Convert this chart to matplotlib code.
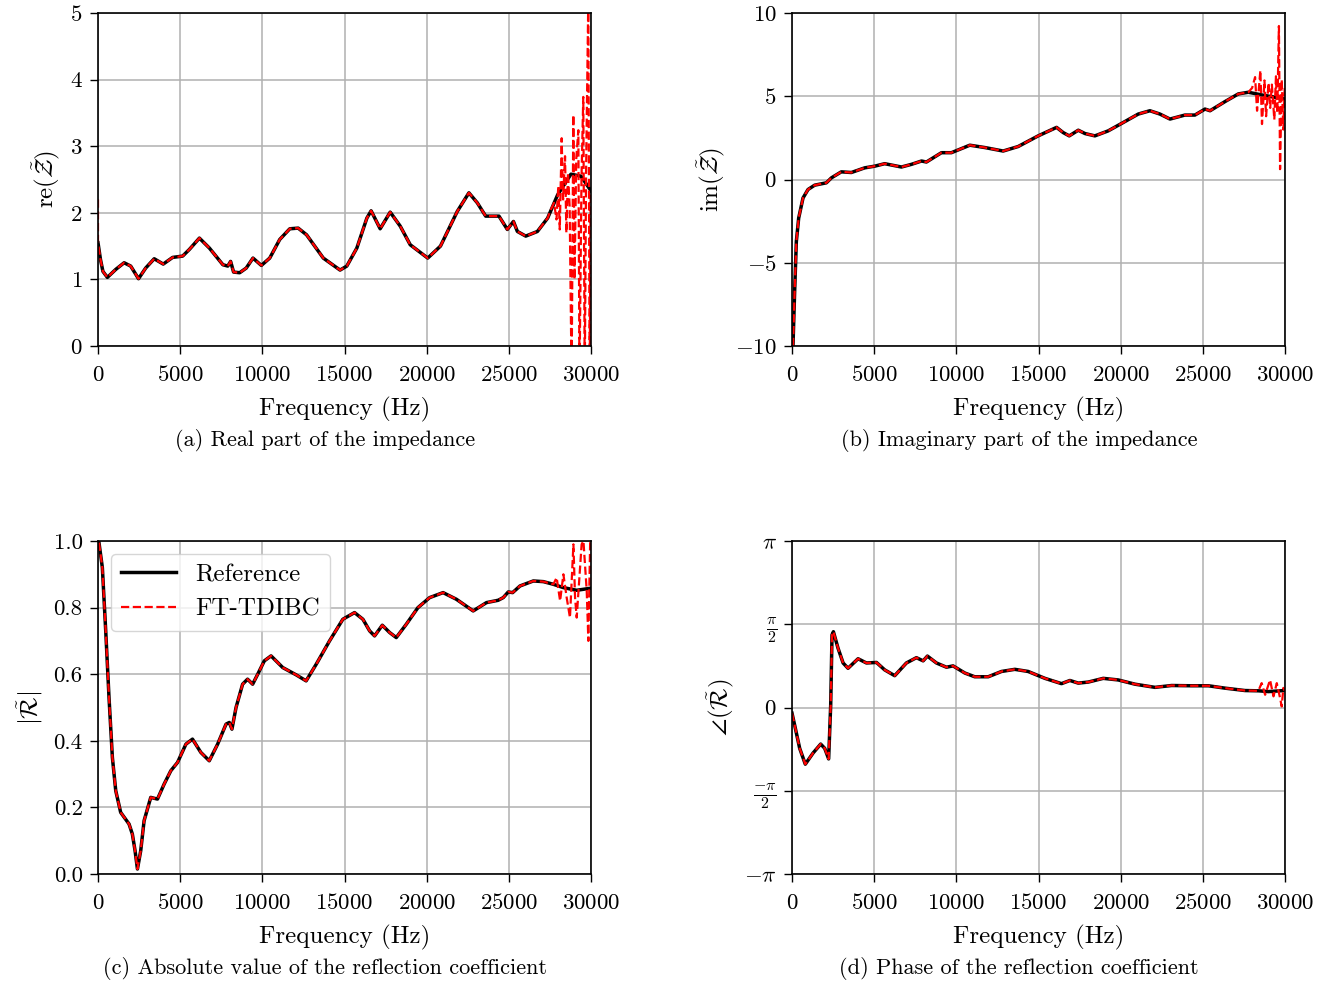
import matplotlib
matplotlib.use("Agg")
import matplotlib.pyplot as plt
import numpy as np

plt.rcParams['font.family'] = 'serif'
plt.rcParams['font.serif'] = ['cmr10', 'DejaVu Serif']
plt.rcParams['mathtext.fontset'] = 'cm'
plt.rcParams['axes.formatter.use_mathtext'] = True
plt.rcParams['axes.unicode_minus'] = True

# (a) real part of impedance, reference
re_f = [0, 150, 300, 570, 1080, 1590, 1990, 2465, 2900, 3420, 3970, 4540, 5150,
        5560, 6170, 6780, 7600, 7900, 8070, 8250, 8620, 9020, 9430, 9940, 10450,
        11060, 11670, 12180, 12690, 13710, 14730, 15140, 15750, 16360, 16620,
        17170, 17780, 18390, 19000, 20065, 20840, 21860, 22570, 23080, 23590,
        24400, 24910, 25280, 25520, 26030, 26740, 27360, 27970, 28780, 29390, 30000]
re_ref = [1.55, 1.3, 1.12, 1.03, 1.15, 1.25, 1.2, 1.01, 1.17, 1.31, 1.23, 1.33, 1.35,
          1.45, 1.62, 1.47, 1.22, 1.2, 1.27, 1.11, 1.1, 1.17, 1.32, 1.21, 1.32,
          1.6, 1.76, 1.77, 1.67, 1.32, 1.14, 1.2, 1.47, 1.92, 2.03,
          1.76, 2.01, 1.8, 1.52, 1.32, 1.5, 2.02, 2.3, 2.15, 1.95,
          1.95, 1.75, 1.87, 1.72, 1.65, 1.72, 1.92, 2.27, 2.58, 2.55, 2.33]
re_tail_f = [27560, 27750, 27900, 28010, 28100, 28215, 28300, 28420, 28500, 28600,
             28700, 28820, 28925, 29000, 29100, 29230, 29300, 29420, 29530, 29620,
             29700, 29835, 29920, 29980]
re_tail = [2.05, 2.15, 1.9, 2.4, 1.75, 3.12, 2.2, 2.85, 1.7, 2.6,
           2.1, -0.5, 3.47, 1.0, 2.8, 3.24, -0.5, 2.5, 3.74, -0.5,
           2.6, 5.2, -0.5, 2.3]
re_start = 2.2

# (b) imaginary part of impedance, reference
im_f = [60, 160, 264, 406, 670, 975, 1380, 2090, 2400, 3000, 3610, 4425, 5030,
        5640, 6660, 7270, 7880, 8180, 9095, 9700, 10820, 11730, 12850, 13760,
        14980, 16100, 16500, 16870, 17420, 17830, 18430, 19240, 20060, 21070,
        21780, 22390, 23000, 23910, 24520, 25130, 25440, 26350, 27160, 27770,
        28580, 29390, 29960]
im_ref = [-10, -6.75, -3.73, -2.32, -1.11, -0.6, -0.34, -0.2, 0.1, 0.46, 0.42, 0.7, 0.8,
          0.95, 0.75, 0.91, 1.11, 1.05, 1.61, 1.61, 2.06, 1.92, 1.71, 1.98,
          2.62, 3.13, 2.82, 2.62, 2.96, 2.76, 2.62, 2.92, 3.37, 3.93,
          4.13, 3.93, 3.63, 3.87, 3.87, 4.23, 4.13, 4.68, 5.14, 5.24,
          5.08, 4.94, 4.84]
im_tail_f = [27770, 28000, 28180, 28300, 28500, 28600, 28750, 28850, 29000, 29100,
             29200, 29350, 29450, 29530, 29630, 29700, 29800, 29900, 29980]
im_tail = [5.24, 5.5, 6.15, 4.13, 6.55, 3.33, 5.95, 3.8, 5.8, 4.3,
           5.7, 3.6, 6.2, 4.0, 9.22, 0.62, 6.0, 3.0, 5.5]

# (c) absolute value of reflection coefficient, reference
abs_f = [60, 265, 470, 670, 875, 1080, 1380, 1890, 2090, 2255, 2400, 2600, 2805,
         3210, 3620, 4025, 4430, 4840, 5350, 5750, 6260, 6770, 7280, 7790, 7990,
         8150, 8400, 8800, 9100, 9410, 9720, 10120, 10530, 11240, 12060, 12665,
         13280, 14090, 14900, 15610, 16120, 16530, 16830, 17300, 17750, 18150,
         18760, 19470, 20180, 21000, 21810, 22830, 23640, 24350, 24660, 24965,
         25230, 25680, 26490, 27100, 27710, 28320, 29130, 29950]
abs_ref = [0.995, 0.92, 0.73, 0.53, 0.35, 0.25, 0.185, 0.15, 0.12, 0.07, 0.015, 0.07, 0.16,
           0.23, 0.225, 0.27, 0.31, 0.335, 0.39, 0.405, 0.365, 0.34, 0.39, 0.45, 0.455,
           0.435, 0.5, 0.57, 0.585, 0.57, 0.6, 0.64, 0.655, 0.62, 0.598, 0.58,
           0.63, 0.7, 0.765, 0.785, 0.765, 0.73, 0.715, 0.747, 0.725, 0.71,
           0.75, 0.8, 0.83, 0.845, 0.825, 0.79, 0.815, 0.822, 0.83, 0.847,
           0.845, 0.865, 0.88, 0.878, 0.87, 0.86, 0.852, 0.858]
abs_tail_f = [27710, 27910, 28120, 28320, 28520, 28720, 28930, 29030, 29130, 29430,
              29540, 29740, 29840, 29950]
abs_tail = [0.87, 0.89, 0.82, 0.9, 0.83, 0.77, 0.99, 0.83, 0.77, 0.99,
            1.0, 0.85, 0.7, 1.0]

# (d) phase of reflection coefficient, reference
ph_f = [0, 160, 467, 810, 1280, 1745, 1990, 2230, 2355, 2435, 2520, 2800, 3110,
        3410, 4020, 4530, 5140, 5640, 6250, 6960, 7570, 7980, 8240, 8790, 9400,
        9800, 10520, 11120, 11940, 12750, 13560, 14370, 15390, 16400, 16910,
        17420, 18030, 18940, 19850, 20870, 22090, 23100, 24320, 25340, 26350,
        27570, 28380, 28990, 29960]
ph_ref = [-0.107, -0.33, -0.77, -1.07, -0.86, -0.69, -0.77, -0.97, 0.05, 1.37, 1.43, 1.12, 0.84,
          0.74, 0.92, 0.84, 0.85, 0.71, 0.6, 0.84, 0.94, 0.88, 0.97, 0.84, 0.76,
          0.785, 0.65, 0.58, 0.58, 0.68, 0.72, 0.68, 0.55, 0.45, 0.51,
          0.46, 0.48, 0.55, 0.52, 0.44, 0.38, 0.415, 0.41, 0.41, 0.365,
          0.32, 0.315, 0.3, 0.32]
ph_tail_f = [28380, 28580, 28790, 29090, 29300, 29500, 29700, 29800, 29900, 29960]
ph_tail = [0.315, 0.46, 0.24, 0.52, 0.21, 0.46, 0.18, 0.02, 0.37, 0.32]

captions = ['(a) Real part of the impedance', '(b) Imaginary part of the impedance',
            '(c) Absolute value of the reflection coefficient',
            '(d) Phase of the reflection coefficient']


def red_series(f, v, tail_f, tail_v):
    f = np.array(f)
    v = np.array(v)
    keep = f < tail_f[0]
    return np.concatenate([f[keep], tail_f]), np.concatenate([v[keep], tail_v])


fig = plt.figure(figsize=(13.35, 9.83), dpi=100)
w, h = 493 / 1335, 333 / 983
ax_a = fig.add_axes([98 / 1335, 1 - 346 / 983, w, h])
ax_b = fig.add_axes([792 / 1335, 1 - 346 / 983, w, h])
ax_c = fig.add_axes([98 / 1335, 1 - 874 / 983, w, h])
ax_d = fig.add_axes([792 / 1335, 1 - 874 / 983, w, h])

panels = [
    (ax_a, re_f, re_ref, re_tail_f, re_tail, (0, 5), r'$\mathrm{re}(\tilde{\mathcal{Z}})$'),
    (ax_b, im_f, im_ref, im_tail_f, im_tail, (-10, 10), r'$\mathrm{im}(\tilde{\mathcal{Z}})$'),
    (ax_c, abs_f, abs_ref, abs_tail_f, abs_tail, (0, 1), r'$|\tilde{\mathcal{R}}|$'),
    (ax_d, ph_f, ph_ref, ph_tail_f, ph_tail, (-np.pi, np.pi), r'$\angle(\tilde{\mathcal{R}})$'),
]

for ax, f, v, tf, tv, ylim, ylab in panels:
    rf, rv = red_series(f, v, tf, tv)
    if ax is ax_a:
        rf = np.concatenate([[0], rf])
        rv = np.concatenate([[re_start], rv])
    ax.plot(f, v, color='black', lw=2.5, label='Reference')
    ax.plot(rf, rv, color='red', lw=1.6, ls='--', label='FT-TDIBC')
    ax.set_xlim(0, 30000)
    ax.set_ylim(*ylim)
    ax.set_xticks([0, 5000, 10000, 15000, 20000, 25000, 30000])
    ax.set_xlabel('Frequency (Hz)', fontsize=18, labelpad=8)
    ax.set_ylabel(ylab, fontsize=18, labelpad=6)
    ax.grid(True, color='#b0b0b0', lw=1.1)
    ax.tick_params(labelsize=16.5, length=6, width=1.0, pad=5)
    ax.tick_params(axis='x', pad=8)
    for s in ax.spines.values():
        s.set_linewidth(1.2)

ax_a.set_yticks([0, 1, 2, 3, 4, 5])
ax_b.set_yticks([-10, -5, 0, 5, 10])
ax_c.set_yticks([0.0, 0.2, 0.4, 0.6, 0.8, 1.0])
ax_c.set_yticklabels(['0.0', '0.2', '0.4', '0.6', '0.8', '1.0'])
ax_d.set_yticks([-np.pi, -np.pi / 2, 0, np.pi / 2, np.pi])
ax_d.set_yticklabels([r'$-\pi$', r'$\frac{-\pi}{2}$', r'$0$', r'$\frac{\pi}{2}$', r'$\pi$'])

ax_c.legend(loc='upper left', fontsize=18, framealpha=0.8, handlelength=2.2,
            borderaxespad=0.5)

cap_y = [1 - 441 / 983, 1 - 441 / 983, 1 - 969 / 983, 1 - 969 / 983]
cap_x = [325 / 1335, 1019 / 1335, 325 / 1335, 1019 / 1335]
for x, y, t in zip(cap_x, cap_y, captions):
    fig.text(x, y, t, ha='center', va='center', fontsize=16)

fig.savefig('out.png', dpi=100)
